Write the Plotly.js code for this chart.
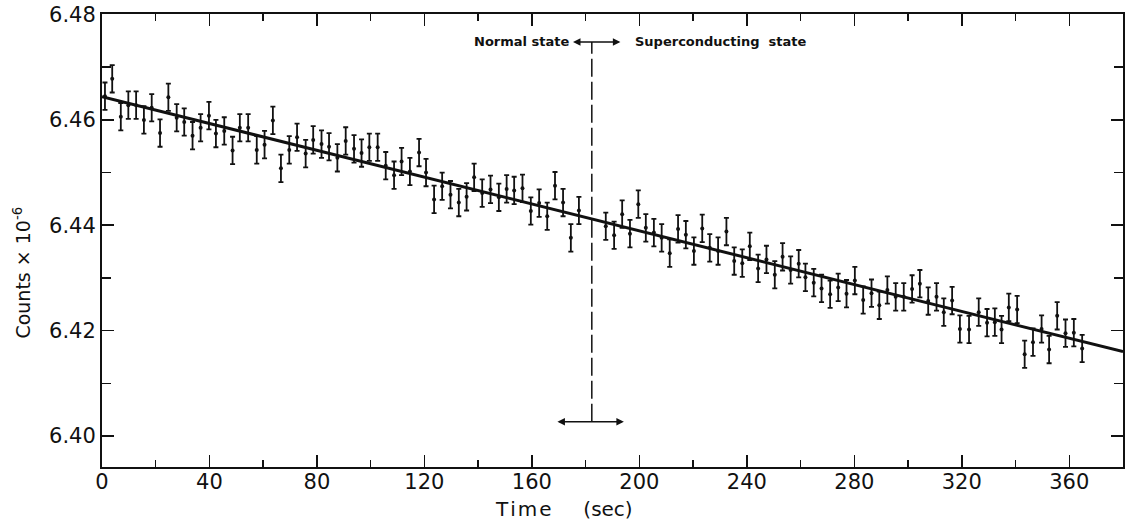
<!DOCTYPE html>
<html>
<head>
<meta charset="utf-8">
<script src="https://cdn.plot.ly/plotly-3.0.1.min.js"></script>
<style>html,body{margin:0;padding:0;background:#fff;}#chart{width:1129px;height:527px;}</style>
</head>
<body>
<div id="chart"></div>
<script>
// Time (sec) of each measurement
const timeSec = [1.1,3.8,7.0,9.8,12.7,15.6,18.5,21.6,24.7,27.8,30.6,33.7,36.7,39.8,42.4,45.5,48.6,51.3,54.4,57.6,
  60.5,63.6,66.6,69.7,72.6,75.8,78.6,81.7,84.5,87.6,90.7,93.8,96.6,99.5,102.6,
  105.6,108.7,111.5,114.6,118.0,120.6,123.6,126.6,129.7,132.8,135.7,138.5,141.5,144.6,147.7,150.6,153.4,156.5,159.6,162.7,165.7,168.6,171.6,174.5,177.5,
  187.5,190.6,193.6,196.5,199.6,202.4,205.4,208.3,211.3,214.4,217.3,220.3,223.4,226.2,229.3,232.4,235.3,238.3,241.1,244.2,247.3,250.4,253.3,256.3,259.3,
  261.8,264.9,267.8,271.0,274.0,277.1,280.2,283.3,286.4,289.3,292.3,295.4,298.4,301.5,304.4,307.5,310.6,313.3,316.4,319.3,322.7,326.3,329.4,332.3,334.8,
  337.5,340.6,343.4,346.5,349.7,352.5,355.5,358.6,361.7,364.8];
// Counts x 10^-6
const counts = [6.4645,6.4678,6.4606,6.4628,6.4628,6.4600,6.4623,6.4575,6.4643,6.4604,6.4596,6.4570,6.4585,6.4608,6.4574,6.4579,6.4542,6.4585,6.4585,6.4543,
  6.4553,6.4599,6.4508,6.4543,6.4567,6.4536,6.4562,6.4554,6.4549,6.4528,6.4560,6.4545,6.4537,6.4548,6.4548,
  6.4513,6.4495,6.4521,6.4502,6.4538,6.4500,6.4449,6.4474,6.4458,6.4443,6.4454,6.4491,6.4461,6.4468,6.4453,6.4469,6.4466,6.4470,6.4427,6.4442,6.4417,6.4475,6.4443,6.4376,6.4428,
  6.4398,6.4381,6.4421,6.4384,6.4440,6.4395,6.4386,6.4376,6.4347,6.4393,6.4382,6.4351,6.4394,6.4357,6.4351,6.4388,6.4332,6.4328,6.4360,6.4318,6.4335,6.4306,6.4340,6.4315,6.4327,
  6.4301,6.4291,6.4280,6.4269,6.4282,6.4270,6.4295,6.4258,6.4271,6.4248,6.4277,6.4264,6.4264,6.4279,6.4289,6.4256,6.4264,6.4235,6.4257,6.4203,6.4202,6.4235,6.4215,6.4216,6.4202,
  6.4244,6.4240,6.4155,6.4178,6.4203,6.4164,6.4228,6.4195,6.4196,6.4166];
const countError = 0.0026;
// Fitted straight line
const fitTime = [0, 380];
const fitCounts = [6.4644, 6.4160];
// Normal / superconducting boundary marker
const boundaryTime = [182.3, 182.3];
const boundaryCounts = [6.4027, 6.4748];
const arrowTopY = 6.4748, arrowTopLeft = 175.3, arrowTopRight = 193.5;
const arrowBotY = 6.4027, arrowBotLeft = 169.5, arrowBotRight = 194.8;
const xTicks = [0,40,80,120,160,200,240,280,320,360];
const yTicks = [6.40,6.42,6.44,6.46,6.48];

const FONT = '"DejaVu Sans", "Liberation Sans", sans-serif';

const traces = [
  {
    x: timeSec, y: counts, type: 'scatter', mode: 'markers',
    marker: {color: '#111', size: 4},
    error_y: {type: 'constant', value: countError, color: '#111', thickness: 1.8, width: 2.5},
    hoverinfo: 'x+y'
  },
  {
    x: fitTime, y: fitCounts, type: 'scatter', mode: 'lines',
    line: {color: '#111', width: 3}
  },
  {
    x: boundaryTime, y: boundaryCounts, type: 'scatter', mode: 'lines',
    line: {color: '#111', width: 1.5, dash: '18px,5px'}
  }
];

const axisCommon = {
  showgrid: false, zeroline: false, showline: true, linecolor: '#111', linewidth: 2,
  mirror: 'ticks', ticks: 'inside', ticklen: 12, tickwidth: 1.5, tickcolor: '#111',
  tickfont: {family: FONT, size: 21, color: '#111'}
};

const layout = {
  width: 1129, height: 527,
  margin: {l: 102, r: 6, t: 14, b: 60},
  paper_bgcolor: '#fff', plot_bgcolor: '#fff',
  showlegend: false,
  xaxis: Object.assign({}, axisCommon, {
    range: [0, 380], tickvals: xTicks, ticktext: xTicks.map(String),
    ticklabelstandoff: -5,
    minor: {dtick: 20, tick0: 0, ticks: 'inside', ticklen: 7, tickwidth: 1.5, tickcolor: '#111'}
  }),
  yaxis: Object.assign({}, axisCommon, {
    range: [6.3941, 6.4801], tickvals: yTicks, ticktext: yTicks.map(v => v.toFixed(2)),
    minor: {dtick: 0.01, tick0: 6.40, ticks: 'inside', ticklen: 9, tickwidth: 1.5, tickcolor: '#111'}
  }),
  annotations: [
    {text: 'T&#8202;i&#8202;m&#8202;e&nbsp;&nbsp;&nbsp;&nbsp;&nbsp;(sec)', xref: 'x', yref: 'paper', x: 172, y: -0.092,
     xanchor: 'center', yanchor: 'middle', showarrow: false, font: {family: FONT, size: 20, color: '#111'}},
    {text: 'Counts × 10<sup>-6</sup>', xref: 'paper', yref: 'paper', x: -0.078, y: 0.43,
     textangle: -90, xanchor: 'center', yanchor: 'middle', showarrow: false, font: {family: FONT, size: 19, color: '#111'}},
    {text: '<b>Normal state</b>', xref: 'x', yref: 'y', x: 174.5, y: arrowTopY, xanchor: 'right', yanchor: 'middle',
     showarrow: false, font: {family: FONT, size: 13, color: '#111'}},
    {text: '<b>Superconducting&nbsp;&nbsp;state</b>', xref: 'x', yref: 'y', x: 197.6, y: arrowTopY, xanchor: 'left', yanchor: 'middle',
     showarrow: false, font: {family: FONT, size: 13, color: '#111'}},
    {text: '', xref: 'x', yref: 'y', axref: 'x', ayref: 'y', x: arrowTopLeft, y: arrowTopY, ax: arrowTopRight, ay: arrowTopY,
     showarrow: true, arrowside: 'end+start', arrowhead: 2, arrowsize: 1, arrowwidth: 1.5, arrowcolor: '#111', standoff: 0, startstandoff: 0},
    {text: '', xref: 'x', yref: 'y', axref: 'x', ayref: 'y', x: arrowBotLeft, y: arrowBotY, ax: arrowBotRight, ay: arrowBotY,
     showarrow: true, arrowside: 'end+start', arrowhead: 2, arrowsize: 1, arrowwidth: 1.5, arrowcolor: '#111', standoff: 0, startstandoff: 0}
  ]
};

Plotly.newPlot('chart', traces, layout, {displayModeBar: false, staticPlot: true});
</script>
</body>
</html>
